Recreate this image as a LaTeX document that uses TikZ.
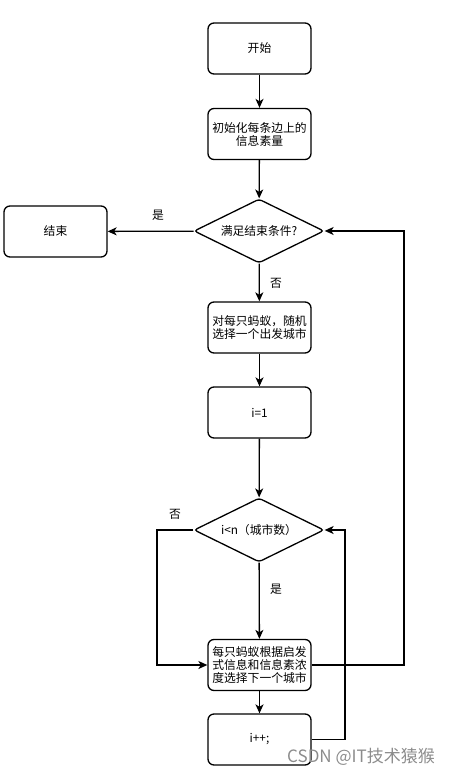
\documentclass[tikz,border=0pt]{standalone}
\usepackage{fontspec}
\setmainfont{Noto Sans CJK SC}
\usepackage{tikz}
\usetikzlibrary{arrows.meta,shapes.geometric}
\tikzset{
	stepbox/.style={draw, line width=1.3pt, rounded corners=6pt, minimum width=103pt, minimum height=51pt, inner sep=1pt, align=center, font=\fontsize{11.8}{13}\selectfont},
	testbox/.style={draw, diamond, line width=1.3pt, rounded corners=3pt, minimum width=130pt, minimum height=64pt, aspect=2, inner sep=0pt, align=center, font=\fontsize{11.8}{13}\selectfont},
	flow/.style={line width=1.3pt, -{Stealth[length=9pt,width=8pt,inset=2.5pt]}},
	tag/.style={font=\fontsize{11.8}{13}\selectfont}
}

\begin{document}
\begin{tikzpicture}[x=1pt, y=-1pt]
		%%%%% START %%%%%
		\useasboundingbox (0, 0) rectangle (459, 777);
		
		\node[stepbox] (start) at (259.5, 48.5) {开始};
		\node[stepbox] (init) at (259.5, 134) {初始化每条边上的\\信息素量};
		\node[testbox] (cond) at (259, 231) {满足结束条件?};
		\node[stepbox] (end) at (55.5, 231.5) {结束};
		\node[stepbox] (pick) at (259.5, 327.5) {对每只蚂蚁，随机\\选择一个出发城市};
		\node[stepbox] (first) at (259.5, 412.5) {i=1};
		\node[testbox] (test) at (259, 530) {i<n（城市数）};
		\node[stepbox] (choose) at (259.5, 665) {每只蚂蚁根据启发\\式信息和信息素浓\\度选择下一个城市};
		\node[stepbox] (inc) at (259.5, 739.5) {i++;};
		
		\coordinate (leftrun) at (157, 600);
		\coordinate (incrun) at (345, 600);
		\coordinate (outrun) at (404, 450);
		
		\draw[flow] (start) -- (init);
		\draw[flow] (init) -- (cond);
		\draw[flow] (cond) -- (end);
		\draw[flow] (cond) -- (pick);
		\draw[flow] (pick) -- (first);
		\draw[flow] (first) -- (test);
		\draw[flow] (test) -- (choose);
		\draw[flow] (choose) -- (inc);
		\draw[flow] (test.west) -| (leftrun) |- (choose.west);
		\draw[flow] (inc.east) -| (incrun) |- (test.east);
		\draw[flow] (choose.east) -| (outrun) |- (cond.east);
		
		\node[tag] (yes1) at (158, 215) {是};
		\node[tag] (no1) at (276, 283) {否};
		\node[tag] (no2) at (175, 514) {否};
		\node[tag] (yes2) at (276, 589) {是};
		
		\node[text=black!45, font=\fontsize{17}{19}\selectfont] (mark) at (361, 757) {CSDN @IT技术猿猴};
		%%%%% END %%%%%
\end{tikzpicture}
\end{document}
